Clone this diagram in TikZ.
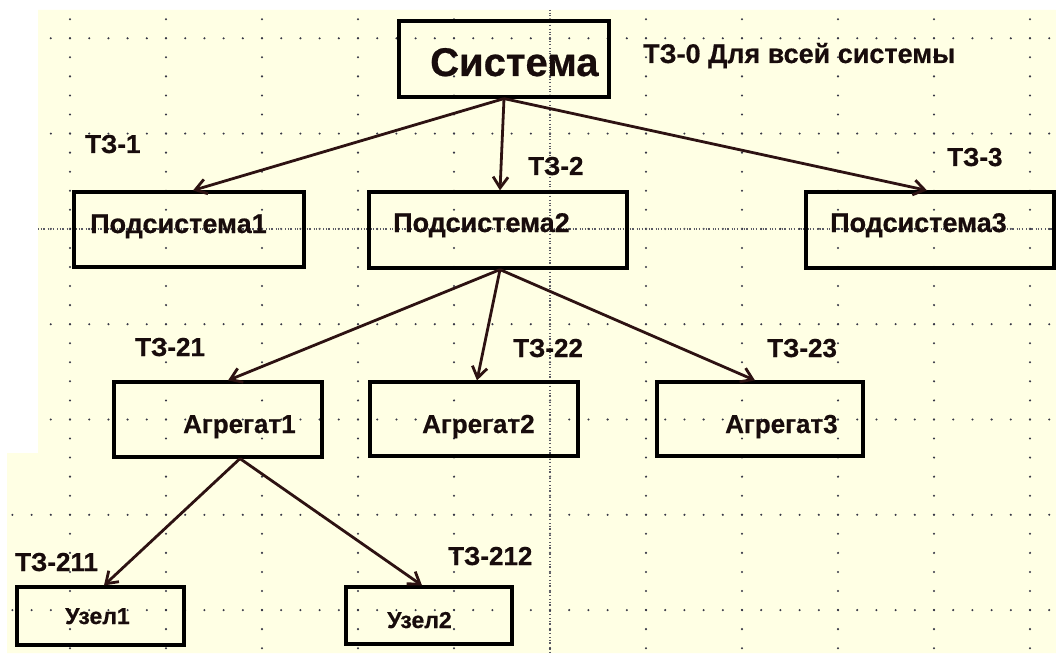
\documentclass[tikz,border=0pt]{standalone}
\usepackage{fontspec}
\setmainfont{Liberation Sans}[BoldFeatures={FakeBold=0.6}]
\usetikzlibrary{arrows.meta}
\definecolor{paper}{RGB}{255,255,228}
\definecolor{ink}{RGB}{24,12,12}
\definecolor{link}{RGB}{45,18,18}
\definecolor{griddot}{RGB}{55,55,70}
\definecolor{breakline}{RGB}{90,90,100}
\begin{document}
\begin{tikzpicture}[x=1pt,y=-1pt,
  box/.style={draw=black, line width=3.2pt, inner sep=0pt},
  lbl/.style={anchor=base west, inner sep=0pt, text=ink,
    font=\bfseries\fontsize{26}{30}\selectfont},
  midlbl/.style={lbl, font=\bfseries\fontsize{27}{31}\selectfont},
  smalllbl/.style={lbl, font=\bfseries\fontsize{23}{27}\selectfont},
  biglbl/.style={lbl, font=\bfseries\fontsize{40}{46}\selectfont},
  arr/.style={draw=link, line width=2.8pt,
    -{Straight Barb[length=11pt,width=15pt]}},
  dot/.style={fill=griddot}]
\useasboundingbox (0,0) rectangle (1056,655);
% paper
\fill[white] (0,0) rectangle (1056,655);
\fill[paper] (38,10) -- (1056,10) -- (1056,653) -- (7,653) -- (7,453) -- (38,453) -- cycle;
% dotted grid
\foreach \r in {0,...,4}
  \foreach \i in {2,...,54}
    \fill[dot] ({12.4+19.2*\i},{38.3+95.3*\r}) circle[radius=1.15pt];
\foreach \r in {5,6}
  \foreach \i in {0,...,54}
    \fill[dot] ({12.4+19.2*\i},{38.3+95.3*\r}) circle[radius=1.15pt];
\foreach \c in {0,...,10}
  \foreach \j in {0,...,33}
    \fill[dot] ({70+96*\c},{19.2+19.06*\j}) circle[radius=1.15pt];
% page breaks
\draw[breakline, line width=1.3pt, dash pattern=on 1.3pt off 1.3pt on 1.3pt off 1.3pt on 1.3pt off 3pt]
  (550,10) -- (550,655);
\draw[breakline, line width=1.3pt, dash pattern=on 1.3pt off 1.3pt on 1.3pt off 1.3pt on 1.3pt off 3pt]
  (38,229) -- (1056,229);

% boxes
\node[box, minimum width=210pt, minimum height=76pt] (sys) at (504,59) {};
\node[box, minimum width=230pt, minimum height=75pt] (p1) at (189,229.5) {};
\node[box, minimum width=258pt, minimum height=76pt] (p2) at (498,230) {};
\node[box, minimum width=248pt, minimum height=76pt] (p3) at (930,230) {};
\node[box, minimum width=208pt, minimum height=75pt] (a1) at (218,419.5) {};
\node[box, minimum width=208pt, minimum height=74pt] (a2) at (474,419) {};
\node[box, minimum width=206pt, minimum height=74pt] (a3) at (760,419) {};
\node[box, minimum width=167pt, minimum height=58pt] (u1) at (100.5,616) {};
\node[box, minimum width=166pt, minimum height=57pt] (u2) at (429,615.5) {};

% box texts
\node[biglbl] (sys-t) at (430,76) {Система};
\node[midlbl] (p1-t) at (90,233) {Подсистема1};
\node[midlbl] (p2-t) at (393,232) {Подсистема2};
\node[midlbl] (p3-t) at (830,232) {Подсистема3};
\node[lbl] (a1-t) at (183,433) {Агрегат1};
\node[lbl] (a2-t) at (422,433) {Агрегат2};
\node[lbl] (a3-t) at (725,433) {Агрегат3};
\node[smalllbl] (u1-t) at (65,624) {Узел1};
\node[smalllbl] (u2-t) at (387,628) {Узел2};

% task labels
\node[midlbl] (tz0) at (643,63) {ТЗ-0 Для всей системы};
\node[lbl] (tz1) at (85,153) {ТЗ-1};
\node[lbl] (tz2) at (528,175) {ТЗ-2};
\node[lbl] (tz3) at (947,166) {ТЗ-3};
\node[lbl] (tz21) at (135,356) {ТЗ-21};
\node[lbl] (tz22) at (513,357) {ТЗ-22};
\node[lbl] (tz23) at (767,357) {ТЗ-23};
\node[lbl] (tz211) at (15,571) {ТЗ-211};
\node[lbl] (tz212) at (448,565) {ТЗ-212};

% links
\draw[arr] (sys.south) -- ([xshift=4pt]p1.north);
\draw[arr] (sys.south) -- ([xshift=2pt]p2.north);
\draw[arr] (sys.south) -- ([xshift=-3pt]p3.north);
\draw[arr] ([xshift=2pt]p2.south) -- ([xshift=10pt]a1.north);
\draw[arr] ([xshift=2pt]p2.south) -- ([xshift=3pt]a2.north);
\draw[arr] ([xshift=2pt]p2.south) -- ([xshift=-5pt]a3.north);
\draw[arr] ([xshift=22pt]a1.south) -- ([xshift=3.5pt]u1.north);
\draw[arr] ([xshift=22pt]a1.south) -- ([xshift=-7pt]u2.north);
\end{tikzpicture}
\end{document}
